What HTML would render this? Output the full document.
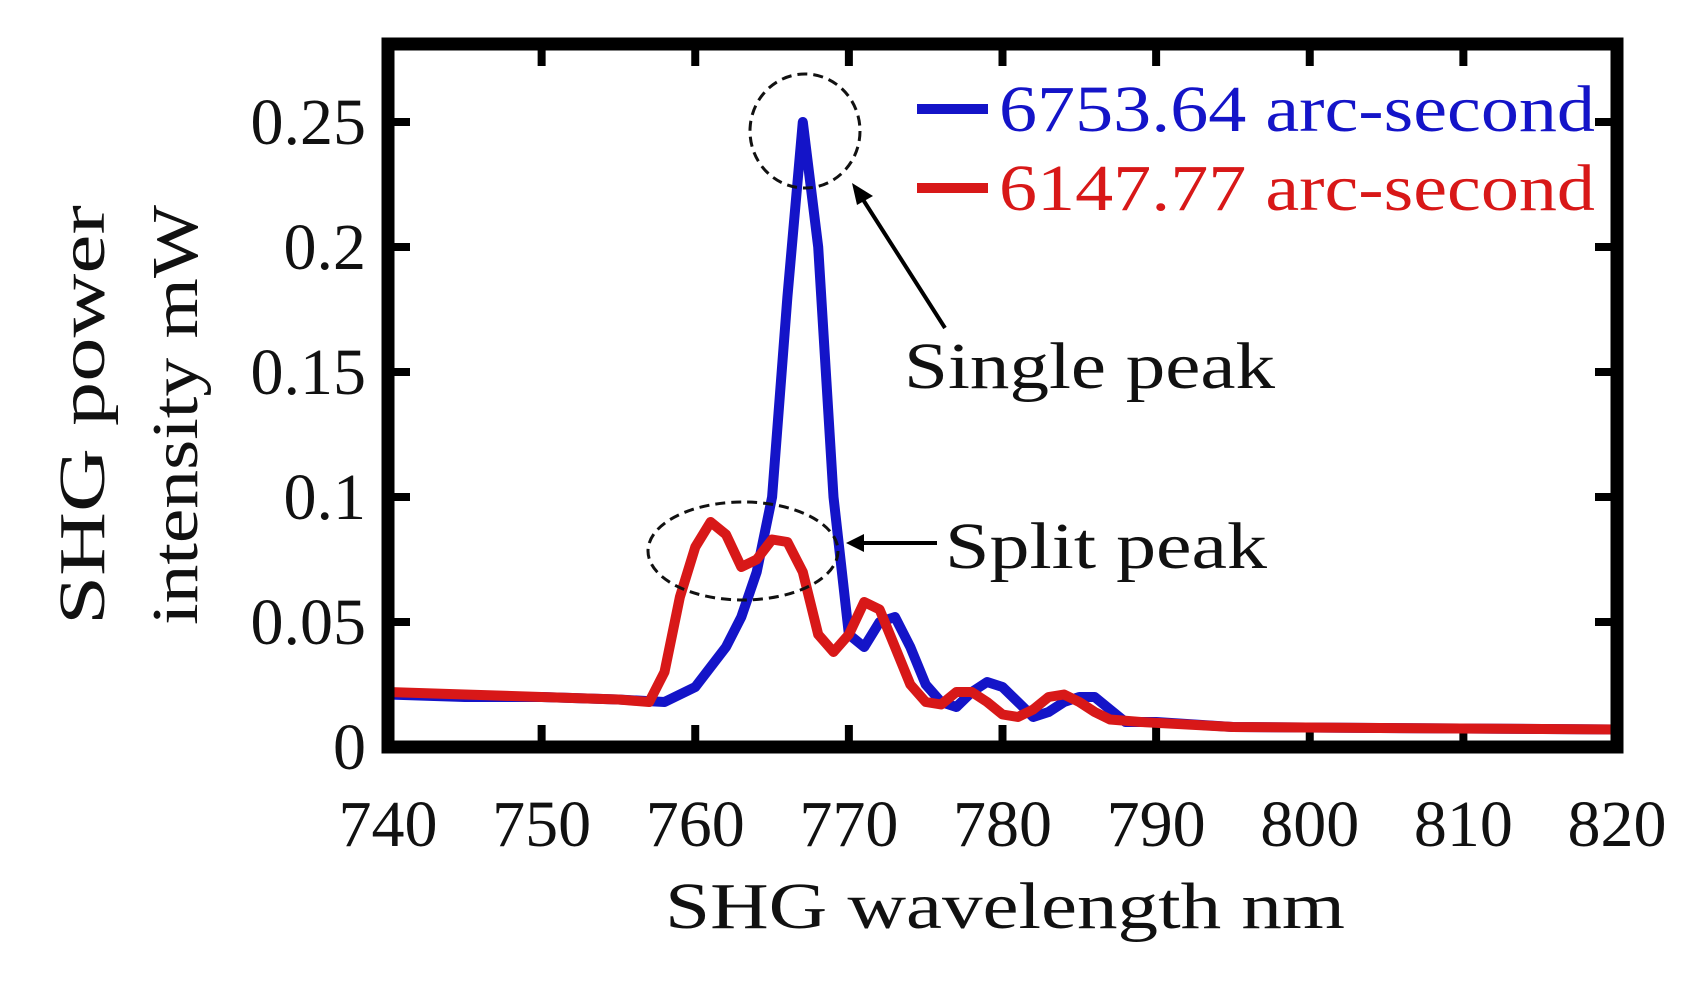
<!DOCTYPE html>
<html><head><meta charset="utf-8"><style>
html,body{margin:0;padding:0;background:#fff;}
svg{display:block;}
text{font-family:"Liberation Serif",serif;fill:#111;}
</style></head><body>
<svg id="s" width="1703" height="982" viewBox="0 0 1703 982" xmlns="http://www.w3.org/2000/svg">
<g id="ticks" stroke="#000" stroke-width="8"></g>
<path id="blue" fill="none" stroke="#1414c8" stroke-width="10" stroke-linejoin="round"/>
<path id="red" fill="none" stroke="#d81818" stroke-width="10" stroke-linejoin="round"/>
<rect x="388" y="44" width="1229" height="703" fill="none" stroke="#000" stroke-width="13"/>
<g font-size="66" text-anchor="end" id="ylab"></g>
<g font-size="66" text-anchor="middle" id="xlab"></g>
<text x="1005" y="928" font-size="66" text-anchor="middle" textLength="680" lengthAdjust="spacingAndGlyphs">SHG wavelength nm</text>
<text transform="translate(82,415) rotate(-90)" font-size="66" text-anchor="middle" textLength="420" lengthAdjust="spacingAndGlyphs" dy="22">SHG power</text>
<text transform="translate(175,415) rotate(-90)" font-size="66" text-anchor="middle" textLength="420" lengthAdjust="spacingAndGlyphs" dy="22">intensity mW</text>
<line x1="917" y1="109" x2="988" y2="109" stroke="#1414c8" stroke-width="10"/>
<line x1="917" y1="188" x2="988" y2="188" stroke="#d81818" stroke-width="10"/>
<text x="999" y="131" font-size="66" style="fill:#1414c8" textLength="596" lengthAdjust="spacingAndGlyphs">6753.64 arc-second</text>
<text x="999" y="210" font-size="66" style="fill:#d81818" textLength="596" lengthAdjust="spacingAndGlyphs">6147.77 arc-second</text>
<ellipse cx="805" cy="131" rx="55" ry="57" fill="none" stroke="#111" stroke-width="3" stroke-dasharray="10,6"/>
<ellipse cx="743" cy="551" rx="95" ry="49" fill="none" stroke="#111" stroke-width="3" stroke-dasharray="10,6"/>
<line x1="945" y1="328" x2="862" y2="198" stroke="#000" stroke-width="4"/>
<polygon points="852,183 873,196 857,205" fill="#000"/>
<line x1="937" y1="543" x2="860" y2="543" stroke="#000" stroke-width="4"/>
<polygon points="846,543 864,534 864,552" fill="#000"/>
<text x="904" y="388" font-size="66" textLength="371" lengthAdjust="spacingAndGlyphs">Single peak</text>
<text x="945" y="568" font-size="66" textLength="322" lengthAdjust="spacingAndGlyphs">Split peak</text>
</svg>
<script>
var X=w=>388+(w-740)*15.3625, Y=v=>747-v*2500;
var ns="http://www.w3.org/2000/svg";
function el(p,t,a,txt){var e=document.createElementNS(ns,t);for(var k in a)e.setAttribute(k,a[k]);if(txt)e.textContent=txt;document.getElementById(p).appendChild(e);}
for(var w=750;w<820;w+=10){el("ticks","line",{x1:X(w),x2:X(w),y1:50,y2:66});el("ticks","line",{x1:X(w),x2:X(w),y1:741,y2:725});}
[0.05,0.1,0.15,0.2,0.25].forEach(v=>{el("ticks","line",{x1:394,x2:410,y1:Y(v),y2:Y(v)});el("ticks","line",{x1:1611,x2:1595,y1:Y(v),y2:Y(v)});});
["0","0.05","0.1","0.15","0.2","0.25"].forEach((s,i)=>el("ylab","text",{x:366,y:Y(i*0.05)+22},s));
for(var w=740;w<=820;w+=10)el("xlab","text",{x:X(w),y:846},""+w);
var B=[[740,.021],[745,.02],[750,.02],[755,.019],[758,.018],[760,.024],[762,.04],[763,.052],[764,.07],[765,.1],[766,.18],[767,.25],[768,.2],[769,.1],[770,.045],[771,.04],[772,.05],[773,.052],[774,.04],[775,.025],[776,.018],[777,.016],[778,.022],[779,.026],[780,.024],[781,.018],[782,.012],[783,.014],[784,.018],[785,.02],[786,.02],[787,.015],[788,.01],[790,.01],[795,.008],[820,.007]];
var R=[[740,.022],[745,.021],[750,.02],[755,.019],[757,.018],[758,.03],[759,.06],[760,.08],[761,.09],[762,.085],[763,.072],[764,.075],[765,.083],[766,.082],[767,.07],[768,.045],[769,.038],[770,.045],[771,.058],[772,.055],[773,.04],[774,.025],[775,.018],[776,.017],[777,.022],[778,.022],[779,.018],[780,.013],[781,.012],[782,.015],[783,.02],[784,.021],[785,.018],[786,.014],[787,.011],[789,.01],[795,.008],[820,.007]];
function path(d){var p="";d.forEach((q,i)=>{p+=(i?"L":"M")+X(q[0]).toFixed(1)+","+Y(q[1]).toFixed(1);});return p;}
document.getElementById("blue").setAttribute("d",path(B));
document.getElementById("red").setAttribute("d",path(R));
</script>
</body></html>
